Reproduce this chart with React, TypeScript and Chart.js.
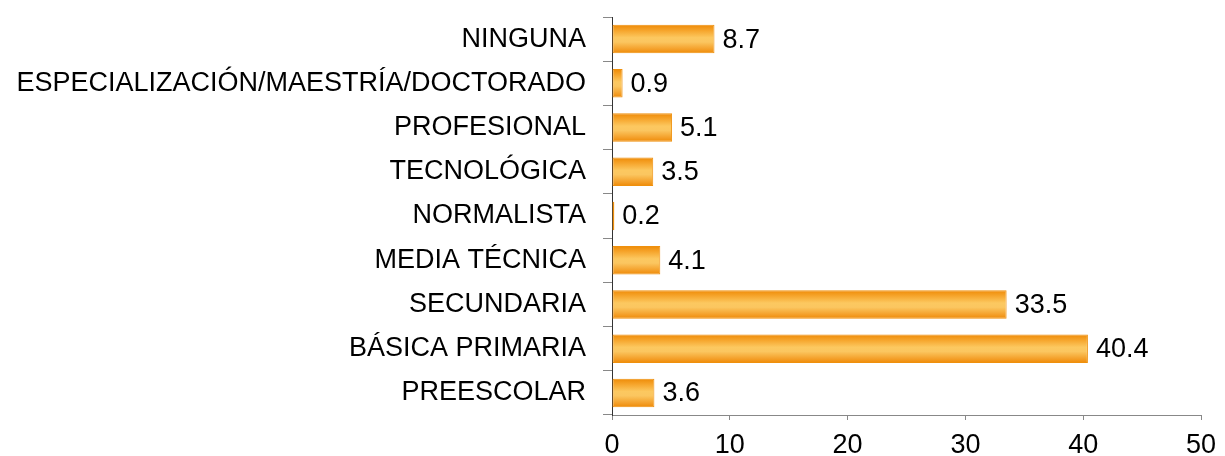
import React, { useEffect, useRef } from "react";
import { Chart, registerables } from "chart.js";

Chart.register(...registerables);

const categories = [
  "NINGUNA",
  "ESPECIALIZACIÓN/MAESTRÍA/DOCTORADO",
  "PROFESIONAL",
  "TECNOLÓGICA",
  "NORMALISTA",
  "MEDIA TÉCNICA",
  "SECUNDARIA",
  "BÁSICA PRIMARIA",
  "PREESCOLAR",
];
const values = [8.7, 0.9, 5.1, 3.5, 0.2, 4.1, 33.5, 40.4, 3.6];
const xTicks = [0, 10, 20, 30, 40, 50];

const FONT = "'Liberation Sans', Arial, sans-serif";
const FONT_SIZE = 27;
const BAR_PCT = 0.645;

export default function App() {
  const ref = useRef<HTMLCanvasElement | null>(null);

  useEffect(() => {
    document.body.style.margin = "0";
    if (!ref.current) return;

    const gradientPlugin = {
      id: "barGradient",
      beforeDatasetsDraw(chart: any) {
        const ctx = chart.ctx;
        const meta = chart.getDatasetMeta(0);
        meta.data.forEach((el: any) => {
          const h = el.height;
          const yc = el.y;
          if (!isFinite(h) || !isFinite(yc)) return;
          const g = ctx.createLinearGradient(0, yc - h / 2, 0, yc + h / 2);
          g.addColorStop(0, "#EE8A06");
          g.addColorStop(0.2, "#F6A52C");
          g.addColorStop(0.45, "#FCC860");
          g.addColorStop(0.6, "#FBC660");
          g.addColorStop(0.85, "#F4A02A");
          g.addColorStop(1, "#EE8A06");
          el.options = { ...el.options, backgroundColor: g };
        });
      },
    };

    const labelPlugin = {
      id: "valueLabels",
      afterDatasetsDraw(chart: any) {
        const ctx = chart.ctx;
        const meta = chart.getDatasetMeta(0);
        ctx.save();
        ctx.font = `${FONT_SIZE}px ${FONT}`;
        ctx.fillStyle = "#000";
        ctx.textAlign = "left";
        ctx.textBaseline = "middle";
        meta.data.forEach((el: any, i: number) => {
          ctx.fillText(values[i].toFixed(1), el.x + 8, el.y + 1);
        });
        ctx.restore();
      },
    };

    const chart = new Chart(ref.current, {
      type: "bar",
      data: {
        labels: categories,
        datasets: [
          {
            data: values,
            backgroundColor: (c: any) => "#F5A623",
            borderColor: "#EF900C",
            borderWidth: 1,
            borderSkipped: false,
            categoryPercentage: 1,
            barPercentage: BAR_PCT,
          },
        ],
      },
      options: {
        indexAxis: "y",
        responsive: false,
        animation: false,
        layout: { padding: { top: 17, right: 24, left: 0, bottom: 0 } },
        plugins: {
          legend: { display: false },
          tooltip: { enabled: false },
          title: { display: false },
        },
        scales: {
          x: {
            min: 0,
            max: 50,
            afterBuildTicks: (s: any) => {
              s.ticks = xTicks.map((v) => ({ value: v }));
            },
            afterFit: (s: any) => {
              s.height = 41;
              s.paddingLeft = 0;
              s.paddingRight = 0;
            },
            grid: {
              drawOnChartArea: false,
              drawTicks: true,
              tickLength: 5,
              color: "#888",
            },
            border: { display: true, color: "#888", width: 1 },
            ticks: {
              color: "#000",
              font: { family: FONT, size: FONT_SIZE },
              padding: 9,
              maxRotation: 0,
            },
          },
          y: {
            afterFit: (s: any) => {
              s.width = 612;
              s.paddingTop = 0;
              s.paddingBottom = 0;
            },
            grid: {
              drawOnChartArea: false,
              drawTicks: true,
              tickLength: 9,
              color: "#888",
              offset: true,
            },
            border: { display: true, color: "#333", width: 1 },
            ticks: {
              color: "#000",
              font: { family: FONT, size: FONT_SIZE },
              padding: 17,
              autoSkip: false,
            },
          },
        },
      },
      plugins: [gradientPlugin, labelPlugin],
    } as any);

    return () => chart.destroy();
  }, []);

  return (
    <div style={{ position: "absolute", left: 0, top: 0, width: 1225, height: 456 }}>
      <canvas ref={ref} width={1225} height={456} />
    </div>
  );
}
